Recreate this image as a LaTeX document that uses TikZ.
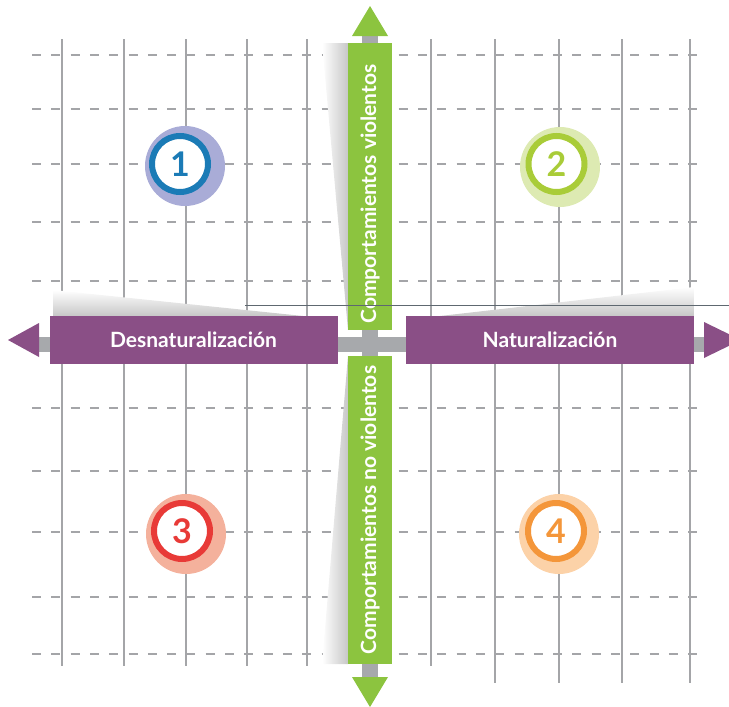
\documentclass[tikz,border=0pt]{standalone}
\usepackage{fontspec}
\setmainfont{Lato}
\usepackage{xcolor}
\usetikzlibrary{positioning}
\definecolor{gridgray}{HTML}{A4A5A8}
\definecolor{axisgray}{HTML}{A7A9AC}
\definecolor{barpurple}{HTML}{8A4F86}
\definecolor{bargreen}{HTML}{8CC43F}
\definecolor{thinline}{HTML}{5E6870}
\definecolor{ringblue}{HTML}{1B7BB6}
\definecolor{haloblue}{HTML}{A9ACD7}
\definecolor{ringgreen}{HTML}{A9CC38}
\definecolor{halogreen}{HTML}{DDEAB2}
\definecolor{ringred}{HTML}{E83A37}
\definecolor{halored}{HTML}{F4B19C}
\definecolor{ringorange}{HTML}{F4963A}
\definecolor{haloorange}{HTML}{FCD2A8}
\tikzset{
  grid_line/.style = {draw=gridgray, line width=2pt},
  dash_line/.style = {grid_line, dash pattern=on 9pt off 10.3pt},
  axis_line/.style = {draw=axisgray, line width=15pt},
  basebar/.style = {rectangle, inner sep=0pt, text=white, font=\bfseries},
  hbar_node/.style = {basebar, fill=barpurple, minimum width=288pt, minimum height=48pt, font=\fontsize{21}{21}\selectfont\bfseries},
  vbar_node/.style = {basebar, fill=bargreen, minimum height=44pt, rotate=90, font=\fontsize{21}{21}\selectfont\bfseries},
  halo_node/.style = {circle, inner sep=0pt, minimum size=80pt},
  ring_node/.style = {circle, inner sep=0pt, minimum size=56pt, line width=6pt, fill=white, draw, font=\fontsize{34}{34}\selectfont\bfseries},
}

\begin{document}
\begin{tikzpicture}[x=1pt, y=-1pt]
    \useasboundingbox (0,0) rectangle (729,707);
    \clip (0,0) rectangle (729,707);
    \foreach \x in {62,124,186,247,307,431}
        \draw [grid_line] (\x,39) -- (\x,666);
    \foreach \x in {495,559,622,690}
        \draw [grid_line] (\x,39) -- (\x,683);
    \foreach \y in {55,109,164,222,281,408,471,532,597,654}
        \draw [dash_line] (32,\y) -- (704,\y);
    \shade [top color=white, bottom color=black!22] (53,290) -- (303,316) -- (53,316) -- cycle;
    \shade [top color=white, bottom color=black!22] (694,287) -- (694,316) -- (440,316) -- cycle;
    \shade [left color=white, right color=black!22] (322,43) -- (348,43) -- (348,330) -- cycle;
    \shade [left color=white, right color=black!22] (348,356) -- (348,664) -- (322,664) -- cycle;
    \coordinate (west) at (39,344.5);
    \coordinate (east) at (704,344.5);
    \coordinate (north) at (370,36);
    \coordinate (south) at (370,677);
    \draw [axis_line] (west) -- (east);
    \draw [axis_line, line width=16pt] (north) -- (south);
    \fill [barpurple] (8,340) -- (39,323) -- (39,357) -- cycle;
    \fill [barpurple] (741,340) -- (704,322) -- (704,358) -- cycle;
    \fill [bargreen] (370,6) -- (352,36) -- (388,36) -- cycle;
    \fill [bargreen] (370,707) -- (352,677) -- (388,677) -- cycle;
    \node [hbar_node] (desnat) at (193.5,340) {Desnaturalización};
    \node [hbar_node] (nat) at (550,340) {Naturalización};
    \node [vbar_node, minimum width=287pt] (viol) at (370,186.5) {Comportamientos violentos\kern15pt};
    \node [vbar_node, minimum width=308pt] (noviol) at (370,510) {Comportamientos no violentos};
    \draw [thinline, line width=0.9pt] (245,305) -- (729,305);
    \node [halo_node, fill=haloblue] (h1) at (185,166) {};
    \node [ring_node, draw=ringblue, text=ringblue] (q1) at (180,164) {1};
    \node [halo_node, fill=halogreen] (h2) at (560,167) {};
    \node [ring_node, draw=ringgreen, text=ringgreen] (q2) at (556.5,164) {2};
    \node [halo_node, fill=halored] (h3) at (186,534) {};
    \node [ring_node, draw=ringred, text=ringred] (q3) at (182,531) {3};
    \node [halo_node, fill=haloorange] (h4) at (559,534) {};
    \node [ring_node, draw=ringorange, text=ringorange] (q4) at (556,531) {4};
\end{tikzpicture}
\end{document}
